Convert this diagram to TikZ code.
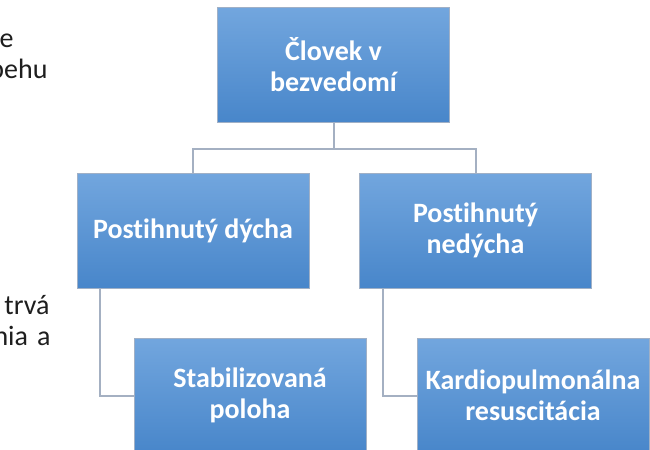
\documentclass[tikz,border=0pt]{standalone}
\usepackage{fontspec}
\setmainfont[Ligatures=NoCommon]{Carlito}

\definecolor{boxtop}{RGB}{114,166,222}
\definecolor{boxbot}{RGB}{72,134,202}
\definecolor{boxline}{RGB}{160,176,198}
\definecolor{connline}{RGB}{164,176,194}
\definecolor{fragtext}{RGB}{30,30,30}

\tikzset{every picture/.style={line width=0.75pt}}
\tikzset{
  box/.style={draw=boxline, top color=boxtop, bottom color=boxbot, minimum width=174pt, minimum height=86.25pt, inner sep=0pt, align=center, text=white, font=\fontsize{21}{23.25}\selectfont\bfseries},
  conn/.style={draw=connline, line width=1.5pt},
  frag/.style={inner sep=0pt, text=fragtext, font=\fontsize{21}{24}\selectfont}
}

\begin{document}
\begin{tikzpicture}[x=0.75pt,y=0.75pt,yscale=-1,xscale=1]
\useasboundingbox (0,0) rectangle (650,450);
\clip (0,0) rectangle (650,450);

% Text Node
\node [frag, anchor=base east] (riadok1) at (14,47) {e};
% Text Node
\node [frag, anchor=base east] (riadok2) at (48,78) {pehu};
% Text Node
\node [frag, anchor=base east] (riadok3) at (50,314) {trvá};
% Text Node
\node [frag, anchor=base east] (riadok4) at (51,345) {nia\hspace{2pt} a};

%Shape: Rectangle
\node [box] (clovek) at (333.5,65) {Človek v\\bezvedomí};
\node [box] (dycha) at (193,230.5) {Postihnutý dýcha};
\node [box] (nedycha) at (475.5,230.5) {Postihnutý\\nedýcha};
\node [box] (poloha) at (250,395.5) {Stabilizovaná\\poloha};
\node [box] (kpr) at (533,395.5) {Kardiopulmonálna\\resuscitácia};

%Straight Lines
\coordinate (rozdel) at (333.5,149);
\draw [conn] (clovek.south) -- (rozdel) -| (dycha.north);
\draw [conn] (rozdel) -| (nedycha.north);
\draw [conn] (dycha.south west) ++(23,0) |- (poloha.west);
\draw [conn] (nedycha.south west) ++(24,0) |- (kpr.west);

\end{tikzpicture}
\end{document}
